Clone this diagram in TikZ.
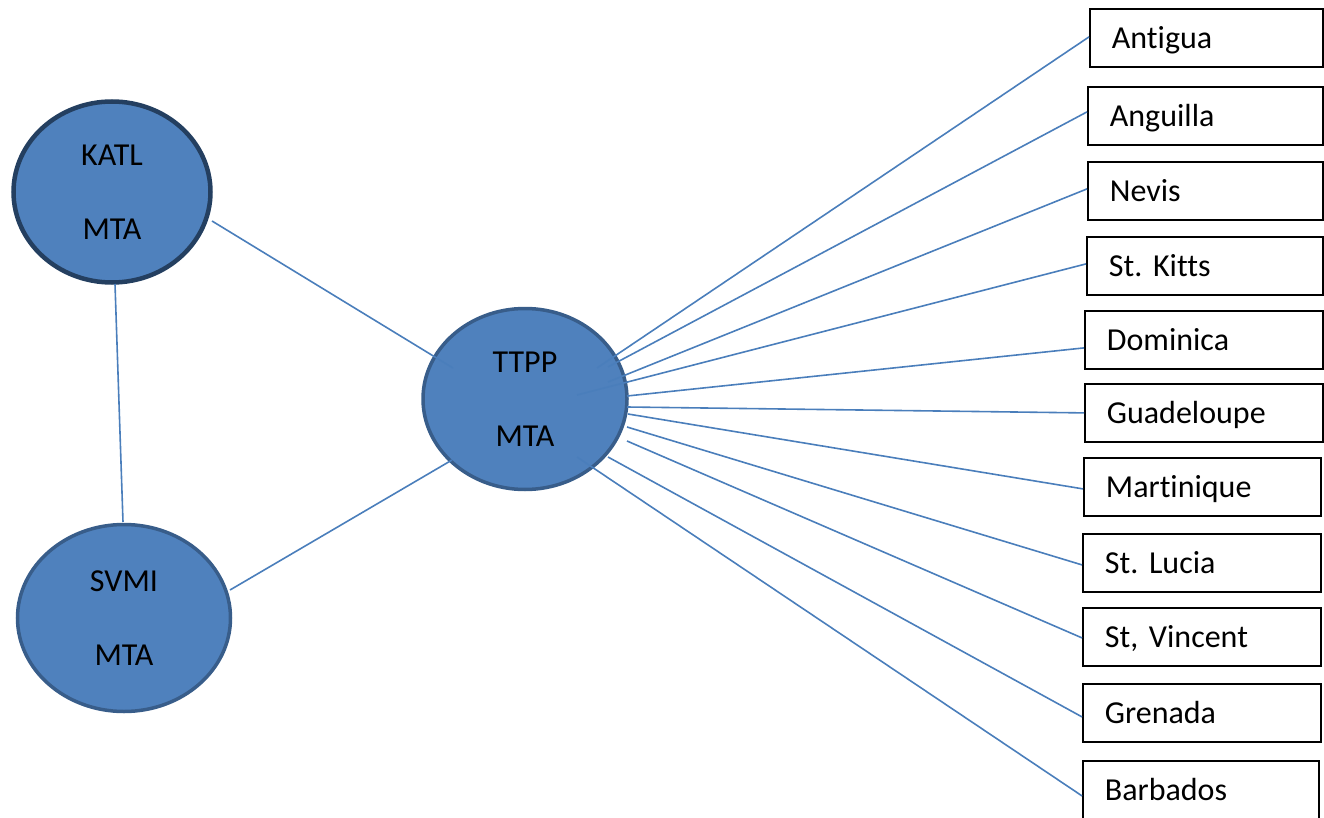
\documentclass[tikz,border=0pt]{standalone}
\usepackage{fontspec}
\setmainfont[Ligatures=NoCommon]{Carlito}
\usetikzlibrary{shapes.geometric}
\definecolor{fillblue}{HTML}{4F81BD}
\definecolor{rimblue}{HTML}{385D8A}
\definecolor{rimdark}{HTML}{243F60}
\definecolor{linkblue}{HTML}{4A7EBB}
\frenchspacing
\tikzset{
  hub/.style={ellipse, draw=rimblue, line width=3.5pt, fill=fillblue, inner sep=0pt,
    align=center, font=\frenchspacing\fontsize{32}{74}\selectfont, text=black},
  isle/.style={draw=black, line width=1.8pt, fill=white, anchor=north west,
    minimum height=58pt, inner xsep=22pt, inner ysep=0pt, align=left,
    text height=21pt, text depth=0pt,
    font=\frenchspacing\fontsize{32}{38}\selectfont},
  link/.style={draw=linkblue, line width=1.6pt},
}
\begin{document}
\begin{tikzpicture}[x=1pt,y=-1pt]
\useasboundingbox (0,0) rectangle (1324,818);
% hubs
\node[hub, draw=rimdark, line width=4.5pt, minimum width=197pt, minimum height=181pt] (katl) at (112,192) {KATL\\MTA};
\node[hub, minimum width=213pt, minimum height=187pt] (svmi) at (124,618) {SVMI\\MTA};
\node[hub, minimum width=204pt, minimum height=181pt] (ttpp) at (525,399) {TTPP\\MTA};
% islands
\node[isle, text width=189pt] (antigua) at (1089,8) {Antigua};
\node[isle, text width=191pt] (anguilla) at (1087,86) {Anguilla};
\node[isle, text width=191pt] (nevis) at (1087,161) {Nevis};
\node[isle, text width=192pt] (kitts) at (1086,236) {St. Kitts};
\node[isle, text width=194pt] (dominica) at (1084,310) {Dominica};
\node[isle, text width=194pt] (guadeloupe) at (1084,383) {Guadeloupe};
\node[isle, text width=193pt] (martinique) at (1083,457) {Martinique};
\node[isle, text width=194pt] (lucia) at (1082,533) {St. Lucia};
\node[isle, text width=194pt] (vincent) at (1082,607) {St, Vincent};
\node[isle, text width=194pt] (grenada) at (1082,683) {Grenada};
\node[isle, text width=192pt] (barbados) at (1082,760) {Barbados};
% start points on TTPP
\coordinate (s1) at (597,368);
\coordinate (s2) at (608,367);
\coordinate (s3) at (608,382);
\coordinate (s4) at (577,395);
\coordinate (s5) at (627,396);
\coordinate (s6) at (627,407);
\coordinate (s7) at (628,414);
\coordinate (s8) at (627,427);
\coordinate (s9) at (627,441);
\coordinate (s10) at (608,457);
\coordinate (s11) at (577,457);
% links between hubs
\coordinate (k1) at (212,221);
\coordinate (t1) at (453,368);
\coordinate (k2) at (115,284);
\coordinate (v2) at (123,522);
\coordinate (v3) at (230,590);
\coordinate (t3) at (452,460);
\draw[link] (k1) -- (t1);
\draw[link] (k2) -- (v2);
\draw[link] (v3) -- (t3);
% links to islands
\draw[link] (s1) -- ([yshift=1pt]antigua.west);
\draw[link] (s2) -- ([yshift=4pt]anguilla.west);
\draw[link] (s3) -- ([yshift=2pt]nevis.west);
\draw[link] (s4) -- ([yshift=2pt]kitts.west);
\draw[link] (s5) -- ([yshift=-8pt]dominica.west);
\draw[link] (s6) -- (guadeloupe.west);
\draw[link] (s7) -- ([yshift=-2pt]martinique.west);
\draw[link] (s8) -- ([yshift=-2pt]lucia.west);
\draw[link] (s9) -- ([yshift=-1pt]vincent.west);
\draw[link] (s10) -- ([yshift=-4pt]grenada.west);
\draw[link] (s11) -- ([yshift=-6pt]barbados.west);
\end{tikzpicture}
\end{document}
